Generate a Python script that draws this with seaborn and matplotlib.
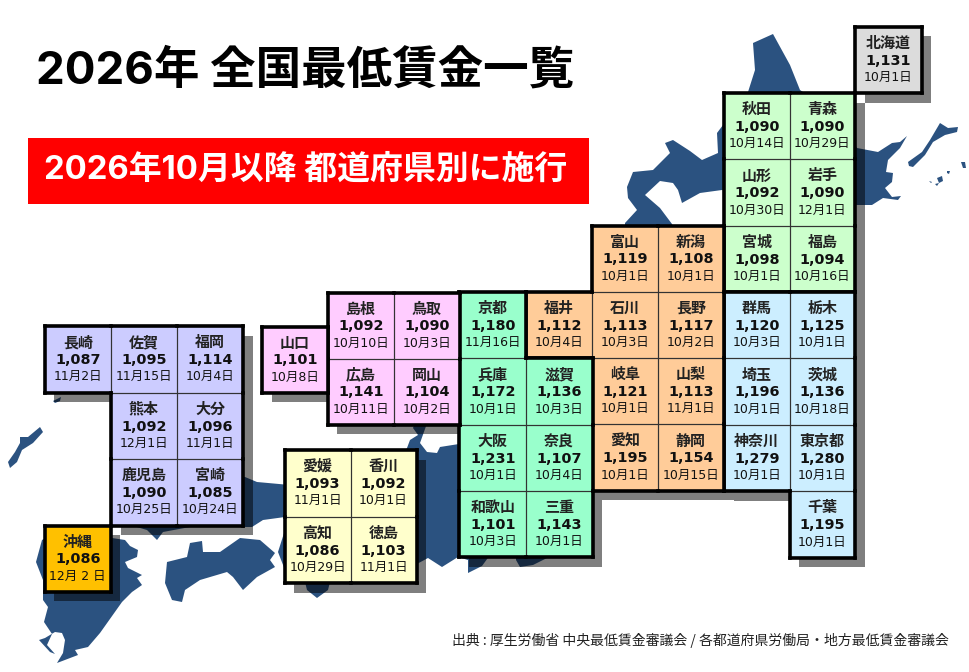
import numpy as np
import pandas as pd
import matplotlib
matplotlib.use("Agg")
import matplotlib.pyplot as plt
from matplotlib.colors import ListedColormap
from matplotlib.patches import Rectangle
import seaborn as sns

# ---------- data ----------
TITLE = "2026年 全国最低賃金一覧"
SUBTITLE = "2026年10月以降 都道府県別に施行"
SOURCE = "出典 : 厚生労働省 中央最低賃金審議会 / 各都道府県労働局・地方最低賃金審議会"

hokkaido_names = [["北海道"]]
hokkaido_wages = [[1131]]
hokkaido_dates = [["10月1日"]]

tohoku_names = [["秋田", "青森"], ["山形", "岩手"], ["宮城", "福島"]]
tohoku_wages = [[1090, 1090], [1092, 1090], [1098, 1094]]
tohoku_dates = [["10月14日", "10月29日"], ["10月30日", "12月1日"], ["10月1日", "10月16日"]]

kanto_names = [["群馬", "栃木"], ["埼玉", "茨城"], ["神奈川", "東京都"], [None, "千葉"]]
kanto_wages = [[1120, 1125], [1196, 1136], [1279, 1280], [None, 1195]]
kanto_dates = [["10月3日", "10月1日"], ["10月1日", "10月18日"], ["10月1日", "10月1日"], [None, "10月1日"]]

chubu_names = [[None, "富山", "新潟"], ["福井", "石川", "長野"], [None, "岐阜", "山梨"], [None, "愛知", "静岡"]]
chubu_wages = [[None, 1119, 1108], [1112, 1113, 1117], [None, 1121, 1113], [None, 1195, 1154]]
chubu_dates = [[None, "10月1日", "10月1日"], ["10月4日", "10月3日", "10月2日"],
               [None, "10月1日", "11月1日"], [None, "10月1日", "10月15日"]]

kinki_names = [["京都", None], ["兵庫", "滋賀"], ["大阪", "奈良"], ["和歌山", "三重"]]
kinki_wages = [[1180, None], [1172, 1136], [1231, 1107], [1101, 1143]]
kinki_dates = [["11月16日", None], ["10月1日", "10月3日"], ["10月1日", "10月4日"], ["10月3日", "10月1日"]]

chugoku_names = [["島根", "鳥取"], ["広島", "岡山"]]
chugoku_wages = [[1092, 1090], [1141, 1104]]
chugoku_dates = [["10月10日", "10月3日"], ["10月11日", "10月2日"]]

yamaguchi_names = [["山口"]]
yamaguchi_wages = [[1101]]
yamaguchi_dates = [["10月8日"]]

shikoku_names = [["愛媛", "香川"], ["高知", "徳島"]]
shikoku_wages = [[1093, 1092], [1086, 1103]]
shikoku_dates = [["11月1日", "10月1日"], ["10月29日", "11月1日"]]

kyushu_names = [["長崎", "佐賀", "福岡"], [None, "熊本", "大分"], [None, "鹿児島", "宮崎"]]
kyushu_wages = [[1087, 1095, 1114], [None, 1092, 1096], [None, 1090, 1085]]
kyushu_dates = [["11月2日", "11月15日", "10月4日"], [None, "12月1日", "11月1日"], [None, "10月25日", "10月24日"]]

okinawa_names = [["沖縄"]]
okinawa_wages = [[1086]]
okinawa_dates = [["12月 2 日"]]

# background silhouette outlines
land_north = [(773,34),(753,43),(755,70),(748,92),(730,110),(723,125),(717,133),(718,153),(702,160),(690,151),
              (673,140),(665,143),(670,153),(660,163),(653,170),(633,172),(627,187),(628,198),(637,210),(625,223),
              (625,232),(676,232),(672,224),(660,208),(645,195),(660,181),(673,183),(678,190),(682,203),(700,193),
              (722,190),(780,205),(857,205),(872,205),(883,198),(898,200),(901,196),(892,197),(885,188),(892,182),
              (893,173),(886,172),(888,160),(900,148),(907,136),(900,142),(892,143),(878,152),(857,148),(830,110),
              (800,90),(790,65)]
land_kurile = [(908,162),(922,152),(930,140),(940,123),(948,128),(958,127),(957,132),(945,135),(933,142),(925,155),
               (913,167),(909,166)]
land_islet_a = [(937,178),(942,176),(943,181),(939,183)]
land_islet_b = [(947,171),(950,171),(949,174),(947,173)]
land_islet_c = [(929,181),(932,182),(931,183)]
land_islet_d = [(935,184),(939,183),(937,186)]
land_islet_e = [(961,162),(965,162),(966,168),(963,168)]
land_middle = [(130,480),(245,477),(257,482),(290,485),(330,470),(400,460),(407,448),(410,440),(418,435),(413,428),
               (418,415),(430,415),(420,443),(427,452),(437,453),(440,447),(459,444),(480,440),(480,552),(516,552),
               (516,560),(520,567),(533,565),(547,558),(550,550),(470,552),(490,555),(482,566),(468,573),(468,560),
               (458,557),(442,567),(428,558),(415,565),(330,582),(328,590),(317,598),(307,590),(305,582),(285,570),
               (278,552),(285,530),(285,517),(263,520),(252,527),(190,527),(163,532),(157,540),(147,530),(130,525)]
land_south = [(42,540),(60,530),(125,540),(130,546),(138,550),(137,557),(125,562),(128,568),(142,575),(137,578),
              (142,585),(132,592),(122,602),(100,633),(88,647),(75,650),(78,655),(57,663),(63,653),(65,640),
              (62,633),(55,632),(45,638),(39,640),(50,652),(55,654),(47,645),(52,634),(44,622),(48,607),(43,600),
              (43,580),(36,562)]
land_shikoku = [(167,562),(187,557),(190,543),(202,541),(203,552),(220,552),(240,538),(260,540),(275,553),(270,560),
                (275,567),(257,577),(243,590),(233,577),(227,572),(200,580),(185,590),(182,602),(172,600),(165,583)]
land_west_island = [(8,462),(15,452),(20,443),(20,437),(28,437),(40,427),(43,432),(33,443),(22,450),(17,462),(10,468)]
land_speck = [(53,401),(61,397),(60,401),(55,403)]
land_outlines = [land_north, land_kurile, land_islet_a, land_islet_b, land_islet_c, land_islet_d, land_islet_e,
                 land_middle, land_south, land_shikoku, land_west_island, land_speck]

# ---------- style / layout ----------
W, H = 970, 672
NAVY = "#2b5280"
JP = ["Noto Sans CJK JP", "DejaVu Sans"]
MIX = ["DejaVu Sans", "Noto Sans CJK JP"]
HEAD = ["Inter", "Noto Sans CJK JP"]

layout = [
    # names, wages, dates, colour, left, top, cell w, cell h
    (hokkaido_names, hokkaido_wages, hokkaido_dates, "#dcdcdc", 855.0, 26.7, 66.7, 66.6),
    (tohoku_names, tohoku_wages, tohoku_dates, "#ccffcc", 724.0, 92.8, 65.6, 66.4),
    (kanto_names, kanto_wages, kanto_dates, "#cceeff", 724.0, 292.0, 65.6, 66.4),
    (chubu_names, chubu_wages, chubu_dates, "#ffcc99", 526.0, 225.5, 66.0, 66.3),
    (kinki_names, kinki_wages, kinki_dates, "#99ffcc", 459.5, 292.0, 66.5, 66.3),
    (chugoku_names, chugoku_wages, chugoku_dates, "#ffccff", 327.8, 292.5, 66.0, 66.0),
    (yamaguchi_names, yamaguchi_wages, yamaguchi_dates, "#ffccff", 262.0, 326.5, 66.0, 66.0),
    (shikoku_names, shikoku_wages, shikoku_dates, "#ffffcc", 284.5, 450.0, 66.0, 66.5),
    (kyushu_names, kyushu_wages, kyushu_dates, "#ccccff", 44.7, 326.0, 66.1, 66.5),
    (okinawa_names, okinawa_wages, okinawa_dates, "#ffc000", 44.7, 525.5, 66.0, 66.2),
]

sns.set_theme(style="white")
plt.rcParams["font.family"] = JP
fig = plt.figure(figsize=(W / 100, H / 100), dpi=100, facecolor="white")


def px_axes(x0, y0, x1, y1, z):
    a = fig.add_axes([x0 / W, 1 - y1 / H, (x1 - x0) / W, (y1 - y0) / H], zorder=z)
    a.patch.set_alpha(0)
    return a


base = px_axes(0, 0, W, H, 0)
base.set_xlim(0, W)
base.set_ylim(H, 0)
base.axis("off")
for outline in land_outlines:
    xs, ys = zip(*outline)
    base.fill(xs, ys, color=NAVY, lw=0)

SHADOW = 9.7
for names, wages, dates, colour, left, top, cw, ch in layout:
    df = pd.DataFrame(wages, dtype=float)
    nr, nc = df.shape
    # drop shadow
    sa = px_axes(left + SHADOW, top + SHADOW, left + SHADOW + nc * cw, top + SHADOW + nr * ch, 1)
    sns.heatmap(df, ax=sa, cmap=ListedColormap(["black"]), alpha=0.5, cbar=False,
                linewidths=0, xticklabels=False, yticklabels=False)
    sa.set_xlabel(""); sa.set_ylabel("")
    # cells
    ca = px_axes(left, top, left + nc * cw, top + nr * ch, 3)
    sns.heatmap(df, ax=ca, cmap=ListedColormap([colour]), cbar=False, linewidths=0,
                xticklabels=False, yticklabels=False)
    ca.set_xlabel(""); ca.set_ylabel("")
    present = df.notna().to_numpy()

    def filled(r, c):
        return 0 <= r < nr and 0 <= c < nc and present[r, c]

    for r in range(nr):
        for c in range(nc):
            if not present[r, c]:
                continue
            cx, cy = c + 0.5, r + 0.5
            ca.text(cx, cy - 0.255, names[r][c], ha="center", va="center", fontsize=10.8, fontweight="bold",
                    family=JP, color="#222222", zorder=6)
            ca.text(cx, cy + 0.012, f"{wages[r][c]:,}", ha="center", va="center", fontsize=10.4, fontweight="bold",
                    family=MIX, color="#111111", zorder=6)
            ca.text(cx, cy + 0.265, dates[r][c], ha="center", va="center", fontsize=9.0,
                    family=MIX, color="#111111", zorder=6)
            edges = [((c, r), (c + 1, r), filled(r - 1, c)), ((c, r + 1), (c + 1, r + 1), filled(r + 1, c)),
                     ((c, r), (c, r + 1), filled(r, c - 1)), ((c + 1, r), (c + 1, r + 1), filled(r, c + 1))]
            for a, b, inside in edges:
                if inside:
                    ca.plot([a[0], b[0]], [a[1], b[1]], color="#333333", lw=0.8, zorder=4, clip_on=False)
                else:
                    ca.plot([a[0], b[0]], [a[1], b[1]], color="black", lw=2.6, clip_on=False,
                            solid_capstyle="projecting", zorder=5)

top_ax = px_axes(0, 0, W, H, 5)
top_ax.set_xlim(0, W)
top_ax.set_ylim(H, 0)
top_ax.axis("off")
top_ax.text(36.5, 71, TITLE, ha="left", va="center", fontsize=32.8, fontweight="bold", family=HEAD, color="black")
top_ax.add_patch(Rectangle((28, 138), 561, 66, color="#ff0000", lw=0))
top_ax.text(306, 170.5, SUBTITLE, ha="center", va="center", fontsize=23.7, fontweight="bold", family=HEAD, color="white")
top_ax.text(949, 640, SOURCE, ha="right", va="center", fontsize=10.0, family=JP, color="#222222")

fig.savefig("out.png", dpi=100)
